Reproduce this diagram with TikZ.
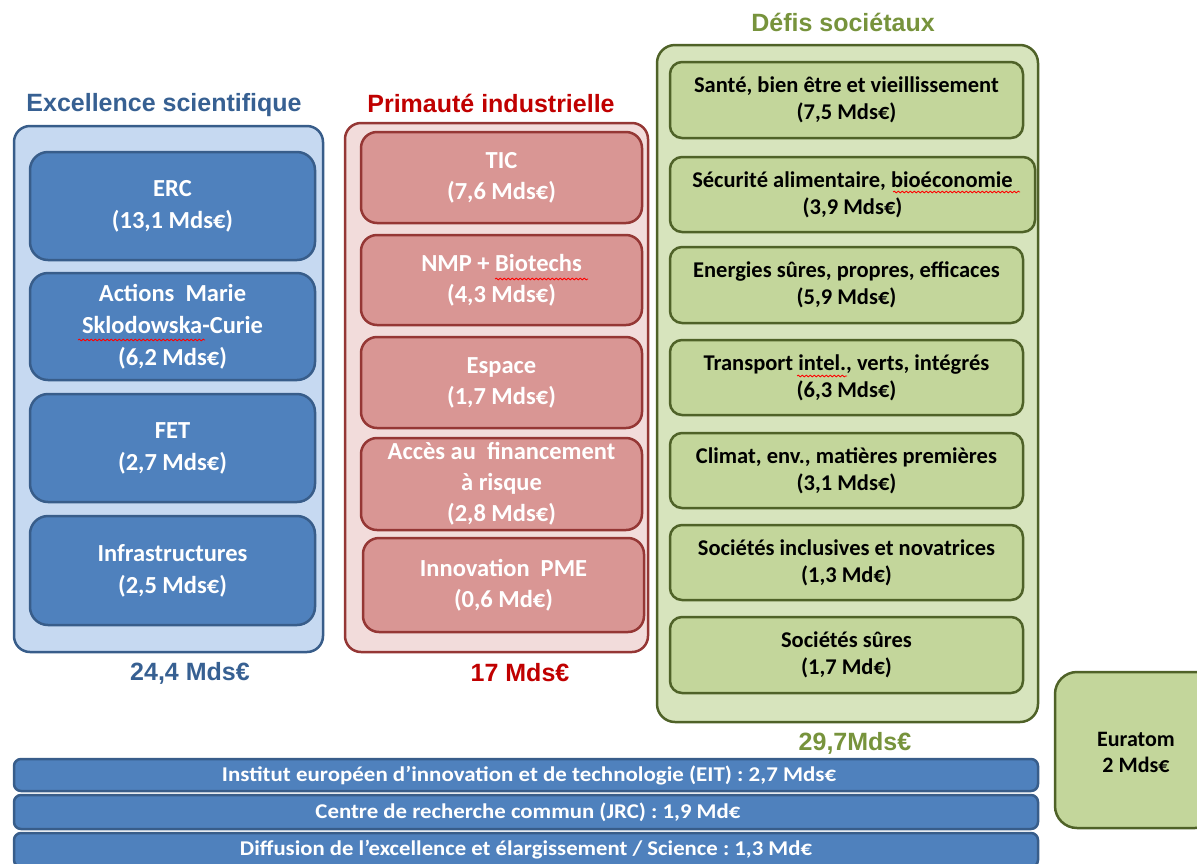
\documentclass[tikz,border=0pt]{standalone}
\usepackage{fontspec}
\usepackage{graphicx}
\usetikzlibrary{decorations.pathmorphing}
\newfontfamily\calfont{Carlito}
\newfontfamily\arialfont{Liberation Sans}
\frenchspacing
\definecolor{bluefill}{HTML}{4F81BD}
\definecolor{blueline}{HTML}{385D8A}
\definecolor{bluebg}{HTML}{C6D9F1}
\definecolor{bluetitle}{HTML}{376092}
\definecolor{redfill}{HTML}{D99694}
\definecolor{redline}{HTML}{953735}
\definecolor{redbg}{HTML}{F2DCDB}
\definecolor{redtitle}{HTML}{C00000}
\definecolor{greenfill}{HTML}{C3D69B}
\definecolor{greenline}{HTML}{4F6228}
\definecolor{greenbg}{HTML}{D7E4BD}
\definecolor{greentitle}{HTML}{77933C}
\tikzset{
  box/.style={rectangle, inner sep=0pt, outer sep=0pt, line width=2.5pt, align=center},
  bluegroup/.style={box, draw=blueline, fill=bluebg, rounded corners=16pt},
  blueitem/.style={box, draw=blueline, fill=bluefill, rounded corners=18pt, text=white,
    font=\calfont\bfseries\fontsize{24.5}{32}\selectfont, minimum width=285pt},
  redgroup/.style={box, draw=redline, fill=redbg, rounded corners=16pt},
  reditem/.style={box, draw=redline, fill=redfill, rounded corners=16pt, text=white,
    font=\calfont\bfseries\fontsize{24.5}{31}\selectfont, minimum width=281pt},
  greengroup/.style={box, draw=greenline, fill=greenbg, rounded corners=18pt},
  greenitem/.style={box, draw=greenline, fill=greenfill, rounded corners=12pt, text=black,
    font=\calfont\bfseries\fontsize{22.5}{27}\selectfont, minimum width=353pt},
  bar/.style={box, draw=blueline, fill=bluefill, rounded corners=7pt, minimum width=1024pt},
  bartext/.style={inner sep=0pt, text=white, font=\calfont\bfseries\fontsize{21}{24}\selectfont},
  titletext/.style={inner sep=0pt, font=\arialfont\bfseries\fontsize{25}{30}\selectfont},
  spell/.style={draw=red, line width=0.8pt, decorate, decoration={snake, amplitude=0.9pt, segment length=4pt}}
}
\begin{document}
\frenchspacing
\begin{tikzpicture}[x=1pt, y=-1pt]
\useasboundingbox (0,0) rectangle (1197,863);
\clip (0,0) rectangle (1197,863);

% ---------- Excellence scientifique ----------
\node[titletext, text=bluetitle] (t1) at (164,105) {Excellence scientifique};
\node[bluegroup, minimum width=309pt, minimum height=526pt] (g1) at (168.5,389) {};
\node[blueitem, minimum height=108pt] (erc) at (172.5,206) {ERC\\(13,1 Mds€)};
\node[blueitem, minimum height=107pt] (msc) at (172.5,326.5) {Actions~ Marie\\Sklodowska-Curie\\(6,2 Mds€)};
\node[blueitem, minimum height=108pt] (fet) at (172.5,448) {FET\\(2,7 Mds€)};
\node[blueitem, minimum height=109pt] (infra) at (172.5,570.5) {Infrastructures\\(2,5 Mds€)};
\node[titletext, text=bluetitle] (s1) at (190,673) {24,4 Mds€};

% ---------- Primauté industrielle ----------
\node[titletext, text=redtitle] (t2) at (491,103) {Primauté industrielle};
\node[redgroup, minimum width=303pt, minimum height=529pt] (g2) at (496.5,387.5) {};
\node[reditem, minimum height=91pt] (tic) at (501.5,177.5) {TIC\\(7,6 Mds€)};
\node[reditem, minimum height=90pt] (nmp) at (501.5,280) {NMP + Biotechs\\(4,3 Mds€)};
\node[reditem, minimum height=91pt] (esp) at (501.5,382.5) {Espace\\(1,7 Mds€)};
\node[reditem, minimum height=92pt] (acc) at (501.5,484) {Accès au~ financement\\à risque\\(2,8 Mds€)};
\node[reditem, minimum height=94pt] (pme) at (503.5,585) {Innovation~ PME\\(0,6 Md€)};
\node[titletext, text=redtitle] (s2) at (520,673) {17 Mds€};

% ---------- Défis sociétaux ----------
\node[titletext, text=greentitle] (t3) at (843,22) {Défis sociétaux};
\node[greengroup, minimum width=381pt, minimum height=677pt] (g3) at (847.5,383.5) {};
\node[greenitem, minimum height=76pt] (sante) at (846.5,100) {Santé, bien être et vieillissement\\(7,5 Mds€)};
\node[greenitem, minimum width=365pt, minimum height=75pt] (secu) at (852.5,194.5) {Sécurité alimentaire, bioéconomie\\(3,9 Mds€)};
\node[greenitem, minimum height=76pt] (ener) at (846.5,285) {Energies sûres, propres, efficaces\\(5,9 Mds€)};
\node[greenitem, minimum height=75pt] (trans) at (846.5,377.5) {Transport intel., verts, intégrés\\(6,3 Mds€)};
\node[greenitem, minimum height=75pt] (clim) at (846.5,470.5) {Climat, env., matières premières\\(3,1 Mds€)};
\node[greenitem, minimum height=75pt] (incl) at (846.5,562.5) {Sociétés inclusives et novatrices\\(1,3 Md€)};
\node[greenitem, minimum height=76pt] (sure) at (846.5,655) {Sociétés sûres\\(1,7 Md€)};
\node[titletext, text=greentitle] (s3) at (855,743) {29,7Mds€};

% ---------- Euratom ----------
\node[greenitem, minimum width=162pt, minimum height=156pt, rounded corners=22pt] (eur) at (1136,750) {};
\node[inner sep=0pt, align=center, font=\calfont\bfseries\fontsize{22}{26}\selectfont] (eurt) at (1136,752) {Euratom\\2 Mds€};

% ---------- bottom bars ----------
\node[bar, minimum height=32pt] (eit) at (526,775) {};
\node[bartext] (eitt) at (529,775) {\resizebox{614pt}{\height}{Institut européen d’innovation et de technologie (EIT) : 2,7 Mds€}};
\node[bar, minimum height=34pt] (jrc) at (526,812) {};
\node[bartext] (jrct) at (528,812) {\resizebox{425pt}{\height}{Centre de recherche commun (JRC) : 1,9 Md€}};
\node[bar, minimum height=34pt] (dif) at (526,850) {};
\node[bartext] (dift) at (526,850) {\resizebox{572pt}{\height}{Diffusion de l’excellence et élargissement / Science : 1,3 Md€}};

% ---------- spell-check underlines ----------
\path[spell] (78,340) -- (205,340);
\path[spell] (495,279) -- (588,279);
\path[spell] (893,192) -- (1020,192);
\path[spell] (797,376) -- (847,376);
\end{tikzpicture}
\end{document}
